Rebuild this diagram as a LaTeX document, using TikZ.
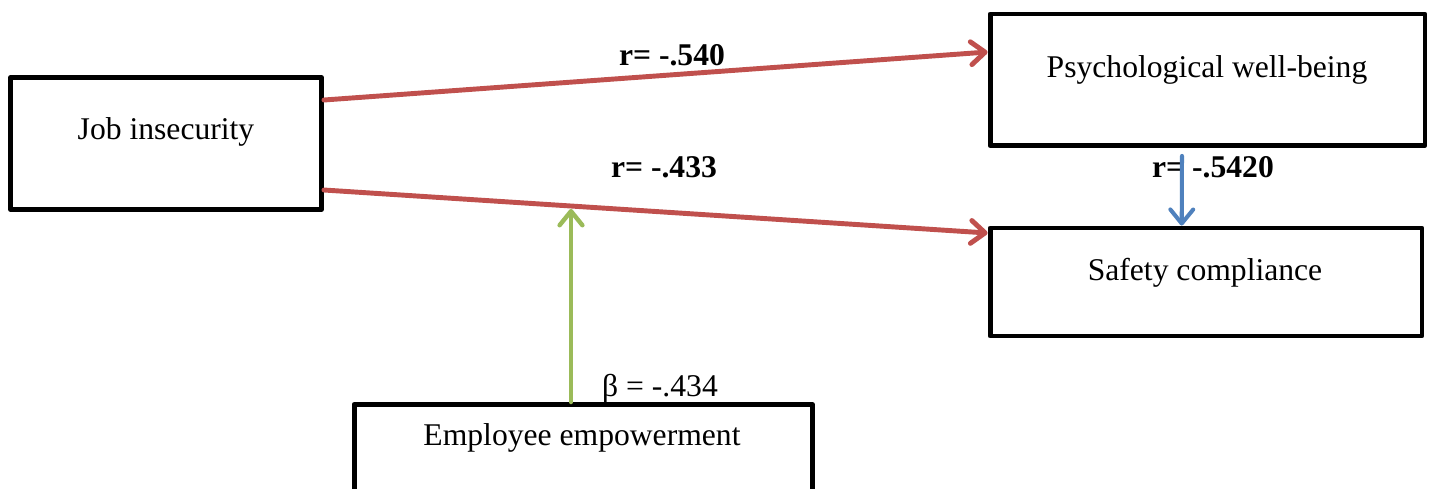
\documentclass[tikz,border=0pt]{standalone}
\usepackage{fontspec}
\setmainfont{Liberation Serif}
\usetikzlibrary{arrows.meta,calc}
\definecolor{offred}{HTML}{C0504D}
\definecolor{offgreen}{HTML}{9BBB59}
\definecolor{offblue}{HTML}{4F81BD}
\tikzset{
  box/.style={draw=black, line width=2.8pt, line join=round, rectangle, inner sep=0pt, fill=white},
  lbl/.style={font=\fontsize{18}{21}\selectfont, inner sep=0pt, anchor=base},
  rlbl/.style={font=\fontsize{18}{21}\selectfont\bfseries, inner sep=0pt, anchor=base},
  barb/.style={-{Straight Barb[length=8pt,width=13pt,line cap=round,line join=round]}},
  redarrow/.style={barb, draw=offred, line width=2.8pt, line cap=round},
  greenarrow/.style={barb, draw=offgreen, line width=2.5pt, line cap=round},
  bluearrow/.style={barb, draw=offblue, line width=2.3pt, line cap=round}
}
\begin{document}
\begin{tikzpicture}[x=0.02cm,y=-0.02cm]
\clip (0,0) rectangle (1431,488);
\fill[white] (0,0) rectangle (1431,488);
% boxes
\node[box, minimum width=6.22cm, minimum height=2.64cm] (job) at (166,143.5) {};
\node[box, minimum width=8.70cm, minimum height=2.63cm] (psy) at (1207.5,79.75) {};
\node[box, minimum width=8.64cm, minimum height=2.16cm] (saf) at (1206,282) {};
\node[box, minimum width=9.17cm, minimum height=2.31cm] (emp) at (583.25,462.25) {};
% box texts
\node[lbl] (jobt) at (166,139) {Job insecurity};
\node[lbl] (psyt) at (1207,77) {Psychological well-being};
\node[lbl] (saft) at (1205,280) {Safety compliance};
\node[lbl] (empt) at (582,445) {Employee empowerment};
% labels
\node[rlbl] (l1) at (672,65) {r= -.540};
\node[rlbl] (l2) at (664,177) {r= -.433};
\node[rlbl] (l3) at (1213,177) {r= -.5420};
\node[lbl] (l4) at (660,396) {β = -.434};
% connectors
\draw[redarrow] ($(job.east)+(0,-43.5)$) -- ($(psy.west)+(0,-27.75)$);
\draw[redarrow] ($(job.east)+(0,46.5)$) -- ($(saf.west)+(0,-49)$);
\coordinate (gtip) at (571,209);
\draw[greenarrow] ($(emp.north)+(-12.25,0)$) -- (gtip);
\draw[bluearrow] ($(psy.south)+(-25.5,8)$) -- ($(saf.north)+(-24.3,0)$);
\end{tikzpicture}
\end{document}
